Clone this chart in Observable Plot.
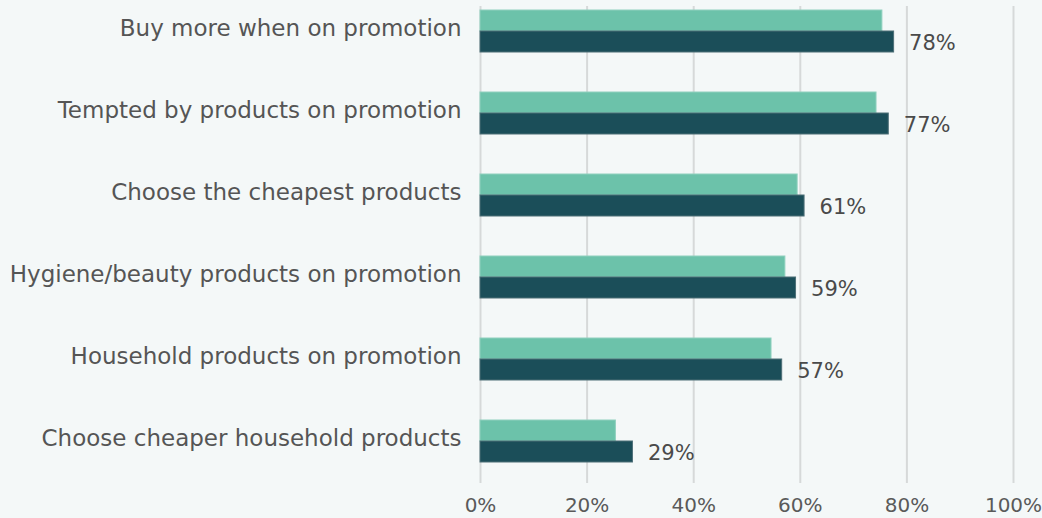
<!DOCTYPE html>
<html>
<head>
<meta charset="utf-8">
<script src="https://cdn.jsdelivr.net/npm/d3@7"></script>
<script src="https://cdn.jsdelivr.net/npm/@observablehq/plot@0.6"></script>
<style>
  html, body { margin: 0; padding: 0; background: #f4f8f8; }
  #chart svg { display: block; }
</style>
</head>
<body>
<div id="chart"></div>
<script>
const categories = [
  "Buy more when on promotion",
  "Tempted by products on promotion",
  "Choose the cheapest products",
  "Hygiene/beauty products on promotion",
  "Household products on promotion",
  "Choose cheaper household products"
];
const lightValues = [75.4, 74.3, 59.5, 57.2, 54.6, 25.4];
const darkValues = [77.6, 76.6, 60.8, 59.2, 56.6, 28.6];
const xTicks = [0, 20, 40, 60, 80, 100];

const light = categories.map((c, i) => ({category: c, value: lightValues[i]}));
const dark = categories.map((c, i) => ({category: c, value: darkValues[i]}));

const font = "'DejaVu Sans', sans-serif";

const chart = Plot.plot({
  width: 1042,
  height: 518,
  marginLeft: 480,
  marginRight: 29,
  marginTop: 6,
  marginBottom: 35,
  style: {background: "#f4f8f8", fontFamily: font, fontSize: "22px", color: "#5a5a5a"},
  x: {domain: [0, 100]},
  y: {domain: categories, range: [8, 463], paddingInner: 0.49, paddingOuter: 0},
  marks: [
    Plot.gridX(xTicks, {stroke: "#d6d9d9", strokeOpacity: 1, strokeWidth: 2}),
    Plot.axisX(xTicks, {tickSize: 0, tickPadding: 14, tickFormat: d => d + "%", fontSize: 20, fill: "#5a5a5a", label: null}),
    Plot.axisY({tickSize: 0, tickPadding: 19, fontSize: 23, fill: "#555", dy: -3, label: null}),
    Plot.barX(light, {x: "value", y: "category", insetBottom: 21, fill: "#6cc2aa", stroke: "#8fd0be", strokeWidth: 1}),
    Plot.barX(dark, {x: "value", y: "category", insetTop: 21, fill: "#1b4e59", stroke: "#4d6f77", strokeWidth: 1}),
    Plot.text(dark, {x: "value", y: "category", text: d => Math.round(d.value) + "%", textAnchor: "start", dx: 15, dy: 12, fontSize: 21, fill: "#4a4a4a"})
  ]
});
document.getElementById("chart").appendChild(chart);
</script>
</body>
</html>
